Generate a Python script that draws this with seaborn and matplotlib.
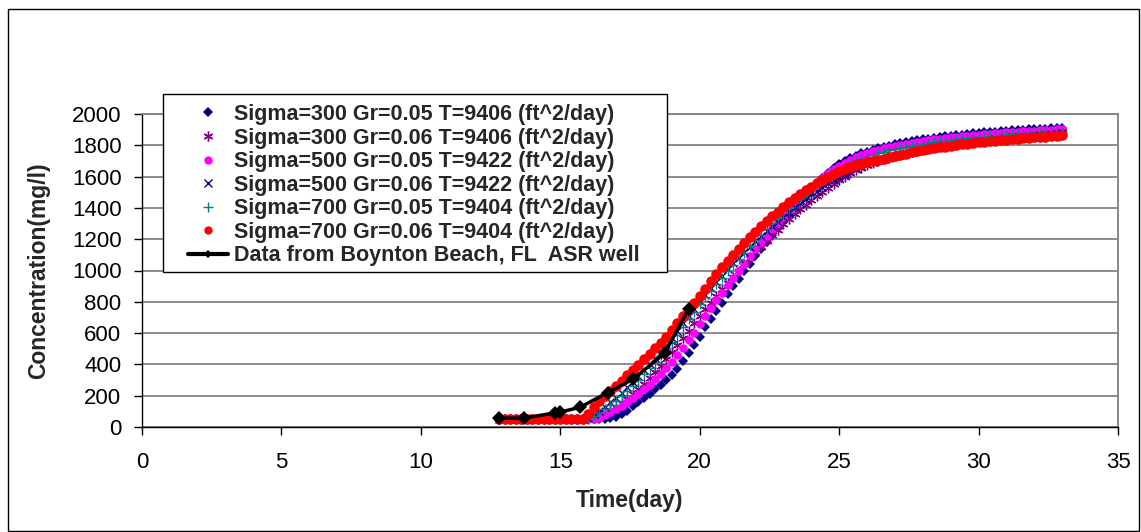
import numpy as np
import matplotlib
matplotlib.use("Agg")
import matplotlib.pyplot as plt
from matplotlib.lines import Line2D
from matplotlib.patches import Rectangle
import seaborn as sns

# ---------------- data ----------------
# model time grid (days), 12.8 .. 33.0 every 0.2 day
time_days = np.round(12.8 + 0.2 * np.arange(102), 1)

sig300_gr005 = [50, 50, 50, 50, 50, 50, 50, 50, 50, 50, 50,
                50, 50, 50, 50, 50, 50, 50, 50, 50, 55,
                65, 80, 105, 135, 160, 185, 210, 240, 270, 303,
                335, 372, 420, 470, 522, 578, 637, 688, 740, 792,
                850, 900, 948, 995, 1042, 1090, 1138, 1185, 1230, 1275,
                1320, 1362, 1404, 1445, 1484, 1520, 1555, 1590, 1622, 1652,
                1678, 1700, 1718, 1734, 1748, 1760, 1771, 1781, 1790, 1798,
                1806, 1813, 1820, 1826, 1832, 1838, 1843, 1848, 1853, 1857,
                1861, 1865, 1869, 1872, 1876, 1879, 1882, 1885, 1888, 1890,
                1893, 1895, 1897, 1899, 1901, 1903, 1905, 1907, 1909, 1911,
                1913]

sig300_gr006 = [50, 50, 50, 50, 50, 50, 50, 50, 50, 50, 50,
                50, 50, 50, 50, 50, 50, 55, 70, 90, 110,
                130, 155, 180, 210, 240, 275, 312, 350, 392, 435,
                478, 522, 568, 615, 662, 708, 752, 795, 838, 880,
                920, 960, 1000, 1040, 1078, 1116, 1153, 1190, 1225, 1260,
                1294, 1327, 1359, 1390, 1420, 1449, 1477, 1504, 1530, 1555,
                1578, 1600, 1620, 1639, 1656, 1672, 1686, 1699, 1711, 1722,
                1732, 1742, 1751, 1760, 1768, 1776, 1783, 1790, 1797, 1803,
                1809, 1815, 1820, 1825, 1830, 1835, 1839, 1843, 1847, 1851,
                1854, 1857, 1860, 1863, 1866, 1869, 1871, 1873, 1875, 1877,
                1879]

sig500_gr005 = [50, 50, 50, 50, 50, 50, 50, 50, 50, 50, 50,
                50, 50, 50, 50, 50, 50, 50, 55, 75, 95,
                115, 135, 158, 185, 212, 240, 270, 305, 340, 378,
                418, 460, 505, 553, 603, 655, 708, 760, 810, 858,
                905, 950, 995, 1040, 1090, 1135, 1180, 1222, 1264, 1305,
                1345, 1384, 1422, 1458, 1494, 1528, 1560, 1592, 1620, 1646,
                1670, 1690, 1708, 1724, 1738, 1750, 1761, 1771, 1780, 1788,
                1796, 1803, 1810, 1816, 1822, 1828, 1833, 1838, 1843, 1847,
                1851, 1855, 1859, 1862, 1866, 1869, 1872, 1875, 1878, 1880,
                1883, 1885, 1887, 1889, 1891, 1893, 1895, 1897, 1899, 1901,
                1903]

sig500_gr006 = [50, 50, 50, 50, 50, 50, 50, 50, 50, 50, 50,
                50, 50, 50, 50, 50, 60, 80, 105, 130, 158,
                188, 220, 253, 288, 325, 362, 400, 440, 482, 525,
                570, 615, 662, 710, 757, 802, 845, 887, 928, 968,
                1007, 1045, 1082, 1118, 1153, 1187, 1220, 1252, 1283, 1313,
                1345, 1375, 1404, 1432, 1460, 1486, 1511, 1535, 1558, 1580,
                1600, 1619, 1636, 1652, 1667, 1680, 1692, 1703, 1713, 1722,
                1731, 1740, 1748, 1756, 1763, 1770, 1776, 1782, 1788, 1794,
                1800, 1806, 1811, 1816, 1821, 1826, 1830, 1834, 1838, 1842,
                1846, 1850, 1853, 1856, 1859, 1862, 1865, 1868, 1871, 1874,
                1877]

sig700_gr005 = [50, 50, 50, 50, 50, 50, 50, 50, 50, 50, 50,
                50, 50, 50, 50, 50, 55, 70, 90, 115, 140,
                168, 200, 232, 265, 300, 338, 378, 418, 460, 502,
                545, 590, 640, 690, 738, 785, 830, 870, 915, 955,
                995, 1035, 1075, 1115, 1155, 1192, 1230, 1266, 1302, 1336,
                1370, 1402, 1434, 1465, 1494, 1522, 1549, 1575, 1600, 1623,
                1644, 1664, 1682, 1698, 1712, 1725, 1737, 1748, 1758, 1767,
                1775, 1783, 1790, 1797, 1803, 1809, 1815, 1820, 1825, 1830,
                1834, 1838, 1842, 1846, 1850, 1853, 1856, 1859, 1862, 1865,
                1868, 1870, 1872, 1874, 1876, 1878, 1880, 1882, 1884, 1886,
                1888]

sig700_gr006 = [50, 50, 50, 50, 50, 50, 50, 50, 50, 50, 50,
                50, 50, 50, 50, 52, 85, 130, 168, 200, 228,
                262, 297, 330, 363, 397, 432, 468, 502, 535, 575,
                620, 664, 708, 752, 795, 838, 882, 932, 980, 1020,
                1060, 1100, 1138, 1175, 1212, 1248, 1282, 1315, 1346, 1376,
                1405, 1435, 1462, 1488, 1512, 1535, 1558, 1580, 1600, 1618,
                1634, 1648, 1660, 1672, 1682, 1691, 1699, 1707, 1715, 1723,
                1731, 1739, 1747, 1755, 1762, 1769, 1775, 1781, 1787, 1792,
                1797, 1802, 1806, 1810, 1814, 1818, 1822, 1826, 1829, 1832,
                1835, 1838, 1841, 1844, 1847, 1850, 1853, 1856, 1859, 1862,
                1866]

# measured data, Boynton Beach ASR well
data_days = [12.8, 13.7, 14.8, 15.0, 15.7, 16.7, 17.6, 18.75, 19.6]
data_conc = [57, 57, 90, 96, 125, 220, 305, 472, 754]

labels = ["Sigma=300 Gr=0.05 T=9406 (ft^2/day)",
          "Sigma=300 Gr=0.06 T=9406 (ft^2/day)",
          "Sigma=500 Gr=0.05 T=9422 (ft^2/day)",
          "Sigma=500 Gr=0.06 T=9422 (ft^2/day)",
          "Sigma=700 Gr=0.05 T=9404 (ft^2/day)",
          "Sigma=700 Gr=0.06 T=9404 (ft^2/day)",
          "Data from Boynton Beach, FL  ASR well"]

x_ticks = [0, 5, 10, 15, 20, 25, 30, 35]
y_ticks = [0, 200, 400, 600, 800, 1000, 1200, 1400, 1600, 1800, 2000]

# ---------------- style ----------------
sns.set_style("ticks")
plt.rcParams['font.family'] = ['Liberation Sans', 'DejaVu Sans']

W, H = 1141, 532
fig = plt.figure(figsize=(W / 100, H / 100), dpi=100)
fig.patch.set_facecolor("white")
ax = fig.add_axes([142 / W, (H - 427) / H, 976 / W, 313 / H])

model_series = [sig300_gr005, sig300_gr006, sig500_gr005,
                sig500_gr006, sig700_gr005, sig700_gr006]
styles = [
    dict(marker='D', color='#000080', ms=4.8, mew=0.0, lms=5.0),
    dict(marker=(6, 2, 0), color='#800080', ms=7.0, mew=1.0, lms=7.0),
    dict(marker='o', color='#FF00FF', ms=6.2, mew=0.0, lms=6.0),
    dict(marker='x', color='#000080', ms=5.5, mew=1.0, lms=6.0),
    dict(marker='+', color='#008080', ms=6.5, mew=1.0, lms=6.5),
    dict(marker='o', color='#FF0000', ms=7.6, mew=0.0, lms=6.0),
]

for vals, st in zip(model_series, styles):
    sns.lineplot(x=time_days, y=vals, ax=ax, errorbar=None, legend=False,
                 linestyle='none', marker=st['marker'], markersize=st['ms'],
                 markeredgewidth=st['mew'], markeredgecolor=st['color'],
                 markerfacecolor=st['color'], color=st['color'])

sns.lineplot(x=data_days, y=data_conc, ax=ax, errorbar=None, legend=False,
             color='black', linewidth=2.5, marker='D', markersize=7,
             markeredgewidth=0, markeredgecolor='black', markerfacecolor='black')

ax.set_xlim(0, 35)
ax.set_ylim(0, 2000)
ax.set_xticks(x_ticks)
ax.set_yticks(y_ticks)
ax.set_xticklabels([str(v) for v in x_ticks])
ax.set_yticklabels([str(v) for v in y_ticks])
ax.tick_params(axis='both', direction='out', length=5.8, width=1,
               color='black', labelsize=16, labelcolor='black')
ax.tick_params(axis='y', pad=9)
ax.tick_params(axis='x', pad=12)

ax.yaxis.grid(True, color='#6e6e6e', linewidth=1.1)
ax.set_axisbelow(True)
for side in ['left', 'bottom']:
    ax.spines[side].set_color('black')
    ax.spines[side].set_linewidth(1.0)
for side in ['top', 'right']:
    ax.spines[side].set_visible(True)
    ax.spines[side].set_color('#808080')
    ax.spines[side].set_linewidth(1.3)

ax.set_xlabel('Time(day)', fontsize=16.5, fontweight='bold')
ax.set_ylabel('Concentration(mg/l)', fontsize=16.5, fontweight='bold')
ax.xaxis.set_label_coords(0.5, -0.198)
ax.yaxis.set_label_coords(-0.094, 0.5)

# legend frame
frame = Rectangle((163 / W, (H - 272) / H), (667 - 163) / W, (272 - 94) / H,
                  transform=fig.transFigure, facecolor='white',
                  edgecolor='black', linewidth=1.0, zorder=4.5)
ax.add_patch(frame)
frame.set_clip_on(False)

handles = []
for st in styles:
    handles.append(Line2D([], [], linestyle='none', marker=st['marker'],
                          markersize=st['lms'],
                          markeredgewidth=st['mew'], color=st['color'],
                          markeredgecolor=st['color'],
                          markerfacecolor=st['color']))
handles.append(Line2D([], [], color='black', linewidth=3, marker='D',
                      markersize=4.5, markeredgewidth=0))
leg = ax.legend(handles, labels, loc='upper left',
                bbox_to_anchor=(188 / W, 1 - 104 / H),
                bbox_transform=fig.transFigure, frameon=False,
                borderaxespad=0, borderpad=0, handlelength=1.88,
                handletextpad=0.24, labelspacing=0.12, numpoints=1,
                prop=dict(family='Liberation Sans', weight='bold', size=15.5))
leg.set_zorder(5)

# outer chart border
border = Rectangle((7.5 / W, 1 / H), (1139 - 7.5) / W, (531 - 8.5) / H,
                   transform=fig.transFigure, fill=False,
                   edgecolor='black', linewidth=1.0)
fig.add_artist(border)

fig.savefig("out.png", dpi=100, facecolor='white')
